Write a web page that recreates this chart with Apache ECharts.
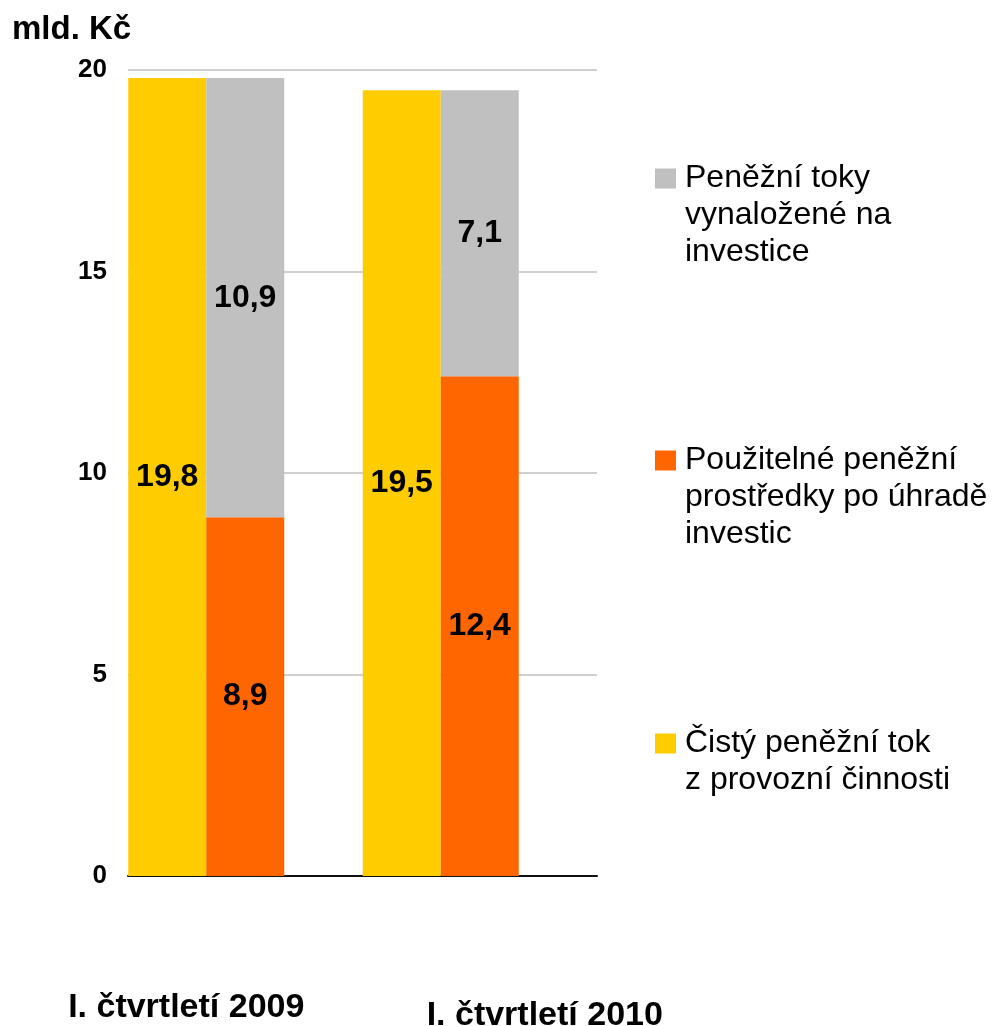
<!DOCTYPE html>
<html>
<head>
<meta charset="utf-8">
<script src="https://cdn.jsdelivr.net/npm/echarts@6/dist/echarts.min.js"></script>
<style>
  html, body { margin: 0; padding: 0; background: #fff; }
  #chart { width: 997px; height: 1026px; }
</style>
</head>
<body>
<div id="chart"></div>
<script>
var FONT = '"Liberation Sans", Arial, sans-serif';

// data
var categories = ['I. čtvrtletí 2009', 'I. čtvrtletí 2010'];
var cistyTok = [19.8, 19.5];
var pouzitelne = [8.9, 12.4];
var investice = [10.9, 7.1];
var emptySlot = ['-', '-'];   // keeps the right third of each category empty

var NAME_CISTY = 'Čistý peněžní tok\nz provozní činnosti';
var NAME_POUZ = 'Použitelné peněžní\nprostředky po úhradě\ninvestic';
var NAME_INV = 'Peněžní toky\nvynaložené na\ninvestice';

var BAR_W = 78;
var LH = 37;

function fmt(p) {
    return p.value.toFixed(1).replace('.', ',');
}

var barLabel = {
    show: true,
    position: 'inside',
    formatter: fmt,
    color: '#000',
    fontFamily: FONT,
    fontWeight: 'bold',
    fontSize: 32
};

// square icon sitting beside the first text line of a multi-line legend entry
function legendFor(name, lines, top) {
    var h = LH * lines;
    var sq0 = LH / 2 - 10, sq1 = LH / 2 + 10;
    return {
        data: [name],
        orient: 'vertical',
        left: 655,
        top: top,
        padding: 0,
        icon: 'path://M0,0 L0,0 M25,' + h + ' L25,' + h +
            ' M0,' + sq0 + ' L21,' + sq0 + ' L21,' + sq1 + ' L0,' + sq1 + ' Z',
        itemWidth: 25,
        itemHeight: h,
        selectedMode: false,
        textStyle: {
            fontFamily: FONT,
            fontSize: 32,
            color: '#000',
            lineHeight: LH
        }
    };
}

var myChart = echarts.init(document.getElementById('chart'));

myChart.setOption({
    animation: false,
    backgroundColor: '#fff',
    title: {
        text: 'mld. Kč',
        left: 12,
        top: 13,
        padding: 0,
        textStyle: {
            fontFamily: FONT,
            fontWeight: 'bold',
            fontSize: 33,
            color: '#000'
        }
    },
    legend: [
        legendFor(NAME_INV, 3, 160),
        legendFor(NAME_POUZ, 3, 442),
        legendFor(NAME_CISTY, 2, 725)
    ],
    grid: {
        left: 128,
        right: 400,
        top: 70,
        bottom: 150,
        containLabel: false,
        outerBoundsMode: 'none'
    },
    xAxis: {
        type: 'category',
        data: categories,
        axisTick: { show: false },
        axisLine: { lineStyle: { color: '#111', width: 2 } },
        axisLabel: {
            margin: 115,
            formatter: function (v, i) {
                return i === 0 ? '{a|' + v + '}' : '{b|' + v + '}';
            },
            rich: {
                a: {
                    fontFamily: FONT, fontWeight: 'bold', fontSize: 34,
                    color: '#000', padding: [0, 118, 0, 0]
                },
                b: {
                    fontFamily: FONT, fontWeight: 'bold', fontSize: 34,
                    color: '#000', padding: [8, 0, 0, 130]
                }
            }
        }
    },
    yAxis: {
        type: 'value',
        min: 0,
        max: 20,
        interval: 5,
        axisLine: { show: false },
        axisTick: { show: false },
        splitLine: { lineStyle: { color: '#d0d0d0', width: 2 } },
        axisLabel: {
            margin: 21,
            fontFamily: FONT,
            fontWeight: 'bold',
            fontSize: 26,
            color: '#000'
        }
    },
    series: [
        {
            name: NAME_CISTY,
            type: 'bar',
            data: cistyTok,
            barWidth: BAR_W,
            barGap: '0%',
            barCategoryGap: '0%',
            itemStyle: { color: '#FFCC00' },
            label: barLabel
        },
        {
            name: NAME_POUZ,
            type: 'bar',
            stack: 'tok',
            data: pouzitelne,
            barWidth: BAR_W,
            barGap: '0%',
            itemStyle: { color: '#FF6600' },
            label: barLabel
        },
        {
            name: NAME_INV,
            type: 'bar',
            stack: 'tok',
            data: investice,
            barWidth: BAR_W,
            barGap: '0%',
            itemStyle: { color: '#C0C0C0' },
            label: barLabel
        },
        {
            name: 'empty',
            type: 'bar',
            data: emptySlot,
            barWidth: BAR_W,
            barGap: '0%',
            itemStyle: { color: 'transparent' },
            silent: true
        }
    ]
});
</script>
</body>
</html>
